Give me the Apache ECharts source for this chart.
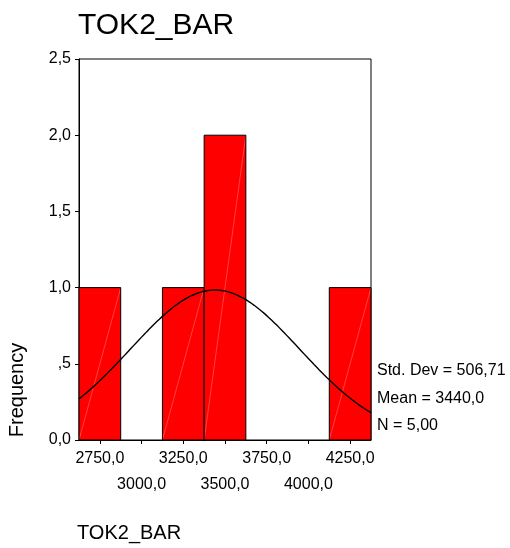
<!DOCTYPE html>
<html>
<head>
<meta charset="utf-8">
<script src="https://cdn.jsdelivr.net/npm/echarts@6/dist/echarts.min.js"></script>
<style>
  html, body { margin: 0; padding: 0; background: #fff; }
  #chart { width: 510px; height: 548px; }
</style>
</head>
<body>
<div id="chart"></div>
<script>
// Histogram bins (centres) and their counts
const binCenters = [2750, 3000, 3250, 3500, 3750, 4000, 4250];
const frequencies = [1, 0, 1, 2, 0, 0, 1];
const binWidth = 250;

// Axis ticks: every bin centre gets a tick, labels alternate between two rows
const xTickValues = [2750, 3000, 3250, 3500, 3750, 4000, 4250];
const xLabelsRow1 = [2750, 3250, 3750, 4250];
const xLabelsRow2 = [3000, 3500, 4000];

// Summary statistics shown beside the plot
const statStdDev = 506.71;
const statMean = 3440.0;
const statN = 5;

const variableName = 'TOK2_BAR';
const yAxisName = 'Frequency';

const FONT = '"Liberation Sans", Arial, sans-serif';

// Decimal comma formatting
function fmt(v, d) {
  return v.toFixed(d).replace('.', ',');
}
// Frequency labels drop the leading zero except for zero itself
function fmtFreq(v) {
  if (v === 0) return '0,0';
  const s = fmt(v, 1);
  return s.startsWith('0,') ? s.slice(1) : s;
}

const xMin = binCenters[0] - binWidth / 2;
const xMax = binCenters[binCenters.length - 1] + binWidth / 2;

// Fitted normal curve, scaled to counts per bin
const curve = [];
const scale = statN * binWidth / (statStdDev * Math.sqrt(2 * Math.PI));
for (let x = xMin; x <= xMax + 0.001; x += 5) {
  const z = (x - statMean) / statStdDev;
  curve.push([x, scale * Math.exp(-0.5 * z * z)]);
}

const histData = binCenters.map((c, i) => [c, frequencies[i]]);

const labelStyle = { fontFamily: FONT, fontSize: 16, color: '#000' };

const chart = echarts.init(document.getElementById('chart'), null, { renderer: 'canvas' });

chart.setOption({
  backgroundColor: '#ffffff',
  animation: false,
  title: {
    text: variableName,
    left: 73,
    top: 6,
    textStyle: { fontFamily: FONT, fontSize: 30, fontWeight: 'normal', color: '#000' }
  },
  grid: {
    left: 79, right: 139, top: 59, bottom: 108,
    show: true, borderColor: '#000', borderWidth: 1, backgroundColor: 'transparent'
  },
  xAxis: [
    {
      type: 'value',
      min: xMin,
      max: xMax,
      splitLine: { show: false },
      axisLine: { show: true, onZero: false, lineStyle: { color: '#000', width: 1 } },
      axisTick: { show: true, length: 4, customValues: xTickValues, lineStyle: { color: '#000' } },
      axisLabel: Object.assign({
        customValues: xLabelsRow1,
        margin: 11,
        showMinLabel: true,
        showMaxLabel: true,
        hideOverlap: false,
        formatter: function (v) { return fmt(v, 1); }
      }, labelStyle)
    },
    {
      type: 'value',
      position: 'bottom',
      offset: 0,
      min: xMin,
      max: xMax,
      splitLine: { show: false },
      axisLine: { show: false, onZero: false },
      axisTick: { show: false },
      axisLabel: Object.assign({
        customValues: xLabelsRow2,
        margin: 37,
        showMinLabel: true,
        showMaxLabel: true,
        hideOverlap: false,
        formatter: function (v) { return fmt(v, 1); }
      }, labelStyle)
    }
  ],
  yAxis: {
    type: 'value',
    min: 0,
    max: 2.5,
    interval: 0.5,
    splitLine: { show: false },
    axisLine: { show: true, lineStyle: { color: '#000', width: 1 } },
    axisTick: { show: true, length: 4, lineStyle: { color: '#000' } },
    axisLabel: Object.assign({
      margin: 8,
      formatter: function (v) { return fmtFreq(v); }
    }, labelStyle)
  },
  series: [
    {
      type: 'custom',
      data: histData,
      z: 2,
      renderItem: function (params, api) {
        const c = api.value(0);
        const h = api.value(1);
        if (!h) return null;
        const p0 = api.coord([c - binWidth / 2, 0]);
        const p1 = api.coord([c + binWidth / 2, h]);
        return {
          type: 'group',
          children: [
            {
              type: 'rect',
              shape: { x: p0[0], y: p1[1], width: p1[0] - p0[0], height: p0[1] - p1[1] },
              style: { fill: '#ff0000', stroke: null }
            },
            {
              type: 'line',
              shape: { x1: p0[0], y1: p0[1], x2: p1[0], y2: p1[1] },
              style: { stroke: 'rgba(255,170,170,0.55)', lineWidth: 0.7 }
            },
            {
              type: 'rect',
              shape: { x: p0[0], y: p1[1], width: p1[0] - p0[0], height: p0[1] - p1[1] },
              style: { fill: null, stroke: '#000', lineWidth: 1 }
            }
          ]
        };
      }
    },
    {
      type: 'line',
      data: curve,
      z: 3,
      showSymbol: false,
      symbol: 'none',
      lineStyle: { color: '#000', width: 1.4 }
    }
  ],
  graphic: [
    {
      type: 'text',
      left: 377,
      top: 363,
      style: { text: 'Std. Dev = ' + fmt(statStdDev, 2), font: '16px ' + FONT, fill: '#000' }
    },
    {
      type: 'text',
      left: 377,
      top: 390.5,
      style: { text: 'Mean = ' + fmt(statMean, 1), font: '16px ' + FONT, fill: '#000' }
    },
    {
      type: 'text',
      left: 377,
      top: 418,
      style: { text: 'N = ' + fmt(statN, 2), font: '16px ' + FONT, fill: '#000' }
    },
    {
      type: 'text',
      x: 17,
      y: 390,
      rotation: Math.PI / 2,
      style: { text: yAxisName, font: '20px ' + FONT, fill: '#000', align: 'center', verticalAlign: 'middle' }
    },
    {
      type: 'text',
      left: 77,
      top: 523,
      style: { text: variableName, font: '20px ' + FONT, fill: '#000' }
    }
  ]
});
</script>
</body>
</html>
